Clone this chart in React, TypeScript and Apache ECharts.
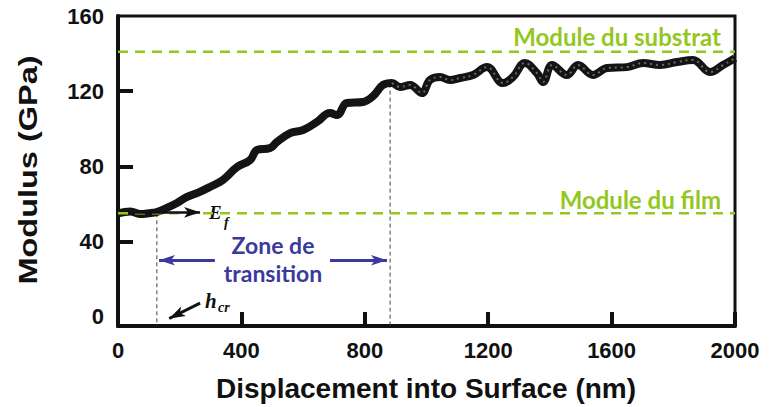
import React, { useEffect, useRef } from "react";
import * as echarts from "echarts";

const depthNm = [0, 40, 71, 100, 126, 160, 191, 224, 260, 298, 340, 386, 428, 451, 493, 515, 558, 600, 645, 687, 710, 742, 794, 827, 859, 888, 914, 947, 985, 1011, 1044, 1076, 1109, 1151, 1196, 1248, 1280, 1319, 1358, 1378, 1407, 1455, 1491, 1540, 1585, 1650, 1702, 1757, 1812, 1864, 1919, 1961, 1990, 2000];
const modulusGPa = [55, 56, 54.6, 55, 55.7, 58, 60.5, 63.7, 66, 69, 72.7, 79.6, 83.3, 88.7, 89.7, 92.9, 97.7, 99.3, 103.6, 108.4, 107.3, 113.7, 114.2, 117.4, 123.3, 124.3, 122.2, 123.3, 119, 125.9, 127.5, 125.9, 127, 128.6, 132.8, 124.3, 127.5, 135, 129.6, 124.9, 133.9, 128.6, 133.9, 128.6, 132.3, 132.8, 135, 133.9, 135.5, 136.6, 130.2, 133.9, 136.6, 137.6];

// Reference levels and markers
const substrateModulus = 141;
const filmModulus = 55;
const criticalDepth = 126;
const transitionEnd = 882;

// Axes
const xTicks = [0, 400, 800, 1200, 1600, 2000];
const yLabels = [0, 40, 80, 120, 160];
const yTicks = [40, 80, 120];
const yMin = -5;
const yMax = 160;

// Annotation arrows [x1, y1, x2, y2] in data units
const efArrow = [40, 55.5, 266, 55.5];
const zoneLeftArrow = [314, 30, 133, 30];
const zoneRightArrow = [687, 30, 872, 30];
const hcrArrow = [266, 7.2, 166, -1];

const GREEN = "#93c71e";
const BLUE = "#3a3a9c";

export default function App() {
  const ref = useRef<HTMLDivElement>(null);
  useEffect(() => {
    if (!ref.current) return;
    const chart = echarts.init(ref.current, null, { renderer: "svg" });
    const curve = depthNm.map((x, i) => [x, modulusGPa[i]]);
    const arrowItem = (a: number[], color: string, width: number, size: number) => [
      { coord: [a[0], a[1]], lineStyle: { color, width, type: "solid" }, symbolSize: size },
      { coord: [a[2], a[3]] },
    ];
    const tickFont = {
      fontFamily: "Liberation Sans, Arial, sans-serif",
      fontWeight: "bold",
      fontSize: 22,
      color: "#111",
    };
    chart.setOption({
      animation: false,
      grid: {
        left: 118,
        right: 34,
        top: 16,
        bottom: 81,
        show: true,
        borderColor: "#111",
        borderWidth: 3,
        backgroundColor: "transparent",
      },
      xAxis: {
        type: "value",
        min: 0,
        max: 2000,
        interval: 400,
        axisLine: { show: true, onZero: false, lineStyle: { color: "#111", width: 4 } },
        axisTick: { show: true, inside: true, length: 14, lineStyle: { color: "#111", width: 4 } },
        splitLine: { show: false },
        axisLabel: {
          margin: 13,
          ...tickFont,
          customValues: xTicks,
          formatter: (v: number) => String(v),
        },
      },
      yAxis: {
        type: "value",
        min: yMin,
        max: yMax,
        axisLine: { show: true, onZero: false, lineStyle: { color: "#111", width: 4 } },
        axisTick: {
          show: true,
          inside: true,
          length: 15,
          lineStyle: { color: "#111", width: 4 },
          customValues: yTicks,
        },
        splitLine: { show: false },
        axisLabel: {
          margin: 14,
          ...tickFont,
          customValues: yLabels,
          formatter: (v: number) => String(v),
        },
      },
      series: [
        {
          type: "line",
          name: "critical",
          data: [
            [criticalDepth, filmModulus],
            [criticalDepth, yMin],
          ],
          showSymbol: false,
          symbol: "none",
          lineStyle: { color: "#444", width: 1, type: [4, 3] },
          z: 1,
        },
        {
          type: "line",
          name: "end",
          data: [
            [transitionEnd, 124],
            [transitionEnd, yMin],
          ],
          showSymbol: false,
          symbol: "none",
          lineStyle: { color: "#444", width: 1, type: [4, 3] },
          z: 1,
        },
        {
          type: "line",
          name: "Modulus",
          data: curve,
          showSymbol: false,
          symbol: "none",
          smooth: 0.4,
          lineStyle: { color: "#141414", width: 8 },
          z: 2,
        },
        {
          type: "line",
          name: "texture",
          data: curve.filter((p) => p[0] >= transitionEnd),
          showSymbol: false,
          symbol: "none",
          smooth: 0.4,
          lineStyle: { color: "#6a6a6a", width: 2, type: [2, 4] },
          z: 3,
        },
        {
          type: "line",
          name: "substrat",
          data: [
            [0, substrateModulus],
            [2000, substrateModulus],
          ],
          showSymbol: false,
          symbol: "none",
          lineStyle: { color: GREEN, width: 2.5, type: [10, 7] },
          z: 4,
        },
        {
          type: "line",
          name: "film",
          data: [
            [0, filmModulus],
            [2000, filmModulus],
          ],
          showSymbol: false,
          symbol: "none",
          lineStyle: { color: GREEN, width: 2.5, type: [10, 7] },
          z: 4,
        },
        {
          type: "line",
          name: "arrows",
          data: [],
          z: 5,
          markLine: {
            silent: true,
            animation: false,
            symbol: ["none", "arrow"],
            label: { show: false },
            emphasis: { disabled: true },
            data: [
              arrowItem(efArrow, "#111", 2.5, 10),
              arrowItem(zoneLeftArrow, BLUE, 3, 16),
              arrowItem(zoneRightArrow, BLUE, 3, 16),
              arrowItem(hcrArrow, "#111", 3, 10),
            ],
          },
        },
      ],
      graphic: [
        {
          type: "text",
          x: 28,
          y: 170,
          rotation: Math.PI / 2,
          scaleX: 1.25,
          style: {
            text: "Modulus (GPa)",
            fontFamily: "Liberation Sans, Arial, sans-serif",
            fontWeight: "bold",
            fontSize: 26,
            fill: "#111",
            align: "center",
            verticalAlign: "middle",
          },
        },
        {
          type: "text",
          x: 426,
          y: 388,
          style: {
            text: "Displacement into Surface (nm)",
            fontFamily: "Liberation Sans, Arial, sans-serif",
            fontWeight: "bold",
            fontSize: 28,
            fill: "#111",
            align: "center",
            verticalAlign: "middle",
          },
        },
        {
          type: "text",
          x: 721,
          y: 36,
          style: {
            text: "Module du substrat",
            fontFamily: "Lato, Open Sans, sans-serif",
            fontWeight: "bold",
            fontSize: 24,
            fill: GREEN,
            align: "right",
            verticalAlign: "middle",
          },
        },
        {
          type: "text",
          x: 721,
          y: 199,
          style: {
            text: "Module du film",
            fontFamily: "Lato, Open Sans, sans-serif",
            fontWeight: "bold",
            fontSize: 24,
            fill: GREEN,
            align: "right",
            verticalAlign: "middle",
          },
        },
        {
          type: "text",
          x: 273,
          y: 259,
          style: {
            text: "Zone de\ntransition",
            fontFamily: "Lato, Open Sans, sans-serif",
            fontWeight: "bold",
            fontSize: 23,
            lineHeight: 28,
            fill: BLUE,
            align: "center",
            verticalAlign: "middle",
          },
        },
        {
          type: "text",
          x: 209,
          y: 212,
          style: {
            text: "E",
            fontFamily: "Liberation Serif, Times New Roman, serif",
            fontWeight: "bold",
            fontStyle: "italic",
            fontSize: 19,
            fill: "#111",
            align: "left",
            verticalAlign: "middle",
          },
        },
        {
          type: "text",
          x: 224,
          y: 222,
          style: {
            text: "f",
            fontFamily: "Liberation Serif, Times New Roman, serif",
            fontWeight: "bold",
            fontStyle: "italic",
            fontSize: 14,
            fill: "#111",
            align: "left",
            verticalAlign: "middle",
          },
        },
        {
          type: "text",
          x: 205,
          y: 301,
          style: {
            text: "h",
            fontFamily: "Liberation Serif, Times New Roman, serif",
            fontWeight: "bold",
            fontStyle: "italic",
            fontSize: 21,
            fill: "#111",
            align: "left",
            verticalAlign: "middle",
          },
        },
        {
          type: "text",
          x: 218,
          y: 307,
          style: {
            text: "cr",
            fontFamily: "Liberation Serif, Times New Roman, serif",
            fontWeight: "bold",
            fontStyle: "italic",
            fontSize: 14,
            fill: "#111",
            align: "left",
            verticalAlign: "middle",
          },
        },
      ],
    });
    return () => chart.dispose();
  }, []);
  return (
    <div
      ref={ref}
      style={{ position: "fixed", left: 0, top: 0, width: 769, height: 407, background: "#fff" }}
    />
  );
}
